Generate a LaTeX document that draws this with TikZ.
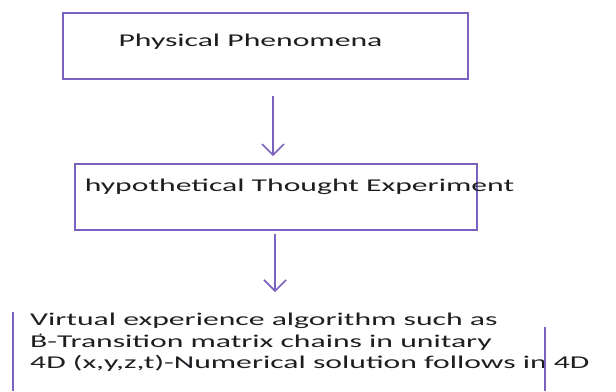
\documentclass[tikz,border=0pt]{standalone}
\usepackage{fontspec}
\setmainfont{Carlito}[FakeStretch=1.76]
\usetikzlibrary{arrows.meta}
\definecolor{lila}{RGB}{124,98,192}
\definecolor{tinta}{RGB}{30,30,34}
\begin{document}
\begin{tikzpicture}[x=1bp,y=-1bp,
    caja/.style={draw=lila, line width=1.6bp, minimum width=#1, minimum height=66bp, inner sep=0pt},
    texto/.style={inner sep=0pt, text=tinta, font=\fontsize{18bp}{21.5bp}\selectfont},
    flecha/.style={lila, line width=1.6bp, -{Straight Barb[length=11bp,width=22bp,line width=1.6bp]}}]
    \useasboundingbox (0,0) rectangle (616,391);
    % Cajas
    \node[caja=405bp] (phen) at (265.5,46) {};
    \node[caja=402bp] (thought) at (276,197) {};
    \node[texto] (phentxt) at (250.5,42) {Physical Phenomena};
    \node[texto] (thoughttxt) at (299.5,187) {hypothetical Thought Experiment};
    \node[texto, anchor=north west, align=left] (virt) at (30,313)
        {Virtual experience algorithm such as\\
         B-Transition matrix chains in unitary\\
         4D (x,y,z,t)-Numerical solution follows in 4D};
    \fill[tinta] (40.5,334.5) circle (1.1bp); % punto sobre el guion
    % Bordes de la ultima caja
    \draw[lila, line width=1.6bp] (13,312) -- (13,391);
    \draw[lila, line width=1.6bp] (545,327) -- (545,391);
    % Flechas
    \draw[flecha, shorten <=16bp, shorten >=7bp] ([xshift=-3bp]thought.north |- phen.south) -- ([xshift=-3bp]thought.north);
    \draw[flecha, shorten <=3bp, shorten >=21bp] ([xshift=-1bp]thought.south) -- ([xshift=-1bp]thought.south |- virt.north);
\end{tikzpicture}
\end{document}
